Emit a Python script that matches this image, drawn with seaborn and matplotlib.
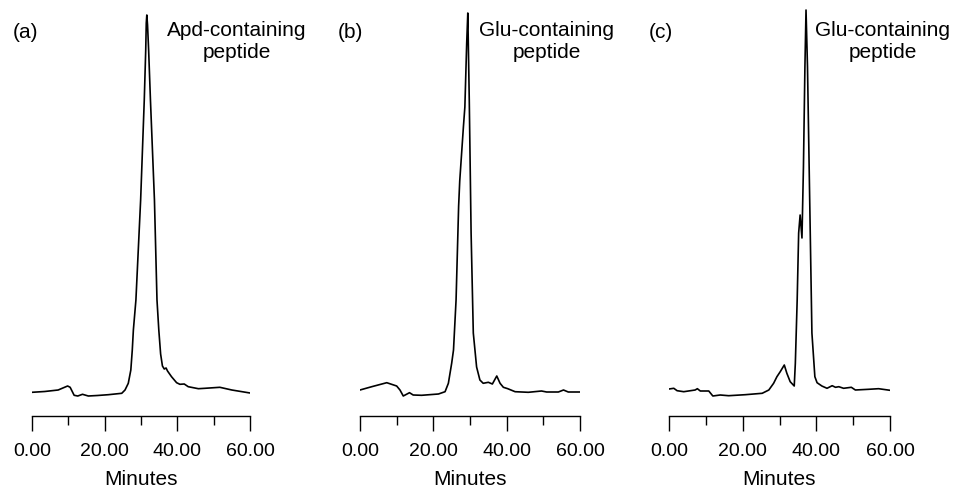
import matplotlib
matplotlib.use("Agg")
import matplotlib.pyplot as plt
import seaborn as sns
import pandas as pd

# ---------------- data ----------------
time_a = [0.0, 3.5, 7.2, 9.8, 10.5, 11.6, 12.6, 13.9, 15.5, 18.0, 21.0, 24.7, 25.6,
          26.5, 27.2, 27.6, 27.9, 28.6, 29.9, 30.9, 31.3, 31.45, 31.6, 31.8, 32.1,
          32.6, 33.7, 34.4, 34.9, 35.4, 35.9, 36.4, 36.9, 37.3, 38.4, 39.8, 40.7,
          41.9, 43.0, 45.8, 47.6, 51.7, 55.0, 60.0]
signal_a = [23.7, 24.5, 26.0, 30.0, 28.7, 20.7, 20.0, 21.7, 20.0, 20.5, 21.3, 22.7, 26.0,
            32.7, 46.0, 66.0, 86.0, 116.0, 216.0, 316.0, 366.0, 393.0, 401.0, 391.0, 366.0,
            316.0, 216.0, 116.0, 86.0, 62.0, 50.0, 47.0, 48.0, 45.0, 39.3, 33.3, 31.7,
            32.0, 29.3, 27.3, 27.7, 28.7, 26.0, 23.0]

time_b = [0.0, 3.2, 7.3, 10.0, 10.9, 11.8, 13.5, 14.5, 16.8, 21.4, 23.2, 24.1, 25.0,
          25.5, 26.2, 26.9, 27.2, 28.2, 28.6, 29.1, 29.4, 29.8, 30.3, 30.9, 31.8, 32.7,
          33.6, 35.0, 36.1, 37.3, 38.2, 39.1, 40.3, 42.3, 45.9, 49.5, 50.9, 54.1, 55.5,
          56.8, 60.0]
signal_b = [26.0, 29.3, 33.3, 30.0, 26.0, 20.0, 23.3, 21.0, 20.7, 22.0, 24.3, 32.7, 52.7,
            66.0, 116.0, 210.0, 235.0, 289.0, 309.0, 373.0, 403.0, 316.0, 183.0, 83.0, 49.0, 36.0,
            32.7, 33.7, 32.0, 40.0, 32.7, 28.7, 27.3, 24.3, 23.7, 25.0, 24.0, 24.0, 26.0,
            24.0, 24.0]

time_c = [0.0, 1.3, 2.2, 4.0, 7.1, 7.7, 8.5, 10.8, 11.9, 13.9, 16.2, 20.7, 25.3, 27.1,
          28.4, 29.3, 30.2, 31.3, 32.0, 32.9, 34.0, 34.3, 34.8, 35.2, 35.6, 36.1, 36.5,
          36.9, 37.2, 37.6, 38.2, 38.8, 39.6, 40.2, 41.5, 42.9, 44.3, 45.2, 46.1, 47.4,
          49.5, 50.6, 54.2, 56.9, 60.0]
signal_c = [27.0, 27.7, 25.3, 24.3, 26.0, 27.3, 25.0, 25.0, 20.0, 21.0, 20.3, 21.3, 22.7, 26.0,
            32.7, 39.3, 44.3, 51.0, 42.7, 34.3, 30.0, 52.7, 116.0, 183.0, 201.0, 178.0, 249.0,
            349.0, 406.0, 349.0, 216.0, 83.0, 39.3, 33.3, 30.0, 27.7, 30.3, 28.7, 29.3, 27.7,
            28.7, 26.0, 26.7, 27.3, 25.7]

panel_letters = ["(a)", "(b)", "(c)"]
panel_titles = ["Apd-containing\npeptide", "Glu-containing\npeptide", "Glu-containing\npeptide"]
major_ticks = [0, 20, 40, 60]
major_labels = ["0.00", "20.00", "40.00", "60.00"]
minor_ticks = [10, 30, 50]
x_label = "Minutes"

# ---------------- layout ----------------
sns.set_style("ticks")
plt.rcParams["font.family"] = ["Liberation Sans", "DejaVu Sans"]
plt.rcParams["text.color"] = "black"
plt.rcParams["axes.labelcolor"] = "black"
plt.rcParams["xtick.color"] = "black"

W, H = 956, 488
fig = plt.figure(figsize=(W / 100, H / 100), dpi=100)

# (left px, right px) of each axis line; axis line at y=416 px, top at 0
axes_px = [(32, 250), (360, 580), (669, 890)]
letter_px = [(13, 33), (338, 33), (649, 33)]
title_px = [(237, 21), (547, 21), (883, 21)]
datasets = [(time_a, signal_a), (time_b, signal_b), (time_c, signal_c)]

for i, ((l, r), (t, s)) in enumerate(zip(axes_px, datasets)):
    ax = fig.add_axes([l / W, (H - 416) / H, (r - l) / W, 416 / H])
    df = pd.DataFrame({"Minutes": t, "Signal": s})
    sns.lineplot(data=df, x="Minutes", y="Signal", ax=ax, color="black",
                 linewidth=1.2, estimator=None, sort=False)
    ax.set_xlim(0, 60)
    ax.set_ylim(0, 416)
    sns.despine(ax=ax, left=True, top=True, right=True)
    ax.set_yticks([])
    ax.set_ylabel("")
    ax.set_xticks(major_ticks)
    ax.set_xticklabels(major_labels, fontsize=14, color="black")
    ax.set_xticks(minor_ticks, minor=True)
    ax.tick_params(axis="x", which="major", direction="out", length=10.8, width=1.0,
                   pad=8.3, colors="black")
    ax.tick_params(axis="x", which="minor", direction="out", length=6.5, width=1.0,
                   colors="black")
    ax.spines["bottom"].set_linewidth(1.0)
    ax.spines["bottom"].set_color("black")
    ax.set_xlabel(x_label, fontsize=15, labelpad=7.2, color="black")
    ax.patch.set_alpha(0)

    lx, ly = letter_px[i]
    fig.text(lx / W, 1 - ly / H, panel_letters[i], fontsize=15, ha="left", va="center",
             color="black")
    tx, ty = title_px[i]
    fig.text(tx / W, 1 - ty / H, panel_titles[i], fontsize=15, ha="center", va="top",
             linespacing=1.2, color="black")

fig.savefig("out.png", dpi=100)
